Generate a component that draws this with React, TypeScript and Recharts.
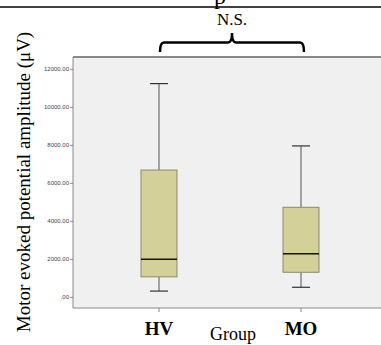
import React from 'react';
import {
  ComposedChart,
  Bar,
  XAxis,
  YAxis,
  CartesianGrid,
  ReferenceLine,
} from 'recharts';

const groups = ['HV', 'MO'];
const whiskerLow = [330, 530];
const q1 = [1080, 1320];
const median = [2000, 2300];
const q3 = [6700, 4740];
const whiskerHigh = [11250, 7970];
const yTicks = [0, 2000, 4000, 6000, 8000, 10000, 12000];
const yDomain = [-560, 12650];

const data = groups.map((g, i) => ({
  group: g,
  base: q1[i],
  box: q3[i] - q1[i],
  min: whiskerLow[i],
  q1: q1[i],
  med: median[i],
  q3: q3[i],
  max: whiskerHigh[i],
}));

const serif = '"Liberation Serif", "Times New Roman", serif';

// draws box, median and whiskers from the stacked bar's geometry
const BoxShape = (props: any) => {
  const { x, y, width, height, payload } = props;
  if (!payload || height <= 0) return null;
  const ppu = height / (payload.q3 - payload.q1);
  const cx = x + width / 2;
  const yMed = y + (payload.q3 - payload.med) * ppu;
  const yMax = y - (payload.max - payload.q3) * ppu;
  const yMin = y + height + (payload.q1 - payload.min) * ppu;
  return (
    <g>
      <line x1={cx} y1={y} x2={cx} y2={yMax} stroke="#555" strokeWidth={1} />
      <line x1={cx - 9} y1={yMax} x2={cx + 9} y2={yMax} stroke="#333" strokeWidth={1.2} />
      <line x1={cx} y1={y + height} x2={cx} y2={yMin} stroke="#555" strokeWidth={1} />
      <line x1={cx - 9} y1={yMin} x2={cx + 9} y2={yMin} stroke="#333" strokeWidth={1.2} />
      <rect x={x} y={y} width={width} height={height} fill="#d4d09a" stroke="#8b8966" strokeWidth={1} />
      <line x1={x} y1={yMed} x2={x + width} y2={yMed} stroke="#111" strokeWidth={1.5} />
    </g>
  );
};

const GroupTick = (props: any) => {
  const { x, y, payload } = props;
  return (
    <text x={x} y={y + 21} textAnchor="middle" fontFamily={serif} fontWeight="bold" fontSize={19} fill="#000">
      {payload.value}
    </text>
  );
};

export default function App() {
  return (
    <div style={{ position: 'absolute', left: 0, top: 0, width: 381, height: 345, overflow: 'hidden', background: '#fff' }}>
      <ComposedChart
        width={381}
        height={345}
        data={data}
        barSize={36}
        margin={{ top: 57, right: 0, bottom: 0, left: 0 }}
      >
        <CartesianGrid fill="#f0f0f0" horizontal={false} vertical={false} />
        <XAxis
          dataKey="group"
          type="category"
          padding={{ left: 15, right: 9 }}
          height={37}
          stroke="#888"
          tickSize={4}
          tickMargin={2}
          tick={<GroupTick />}
        />
        <YAxis
          type="number"
          domain={yDomain}
          ticks={yTicks}
          allowDataOverflow
          width={73}
          stroke="#888"
          tickSize={3}
          tickMargin={1}
          tick={{ fontSize: 6, fill: '#444', fontFamily: '"Liberation Sans", Arial, sans-serif' }}
          tickFormatter={(v: number) => (v === 0 ? '.00' : v.toFixed(2))}
        />
        <ReferenceLine y={yDomain[1]} stroke="#888" strokeWidth={2} />
        <Bar dataKey="base" stackId="a" fill="transparent" isAnimationActive={false} />
        <Bar dataKey="box" stackId="a" shape={<BoxShape />} isAnimationActive={false} />
      </ComposedChart>
      <svg
        width={381}
        height={345}
        style={{ position: 'absolute', left: 0, top: 0, pointerEvents: 'none' }}
      >
        <text x={220} y={4} textAnchor="middle" fontFamily={serif} fontSize={24} fill="#000">p</text>
        <line x1={0} y1={7} x2={381} y2={7} stroke="#000" strokeWidth={1.5} />
        <text x={232} y={25} textAnchor="middle" fontFamily={serif} fontSize={17} fill="#000">N.S.</text>
        <path
          d="M160 52 Q160 42.5 164 42.5 L228 42.5 Q232 42.5 232 33 Q232 42.5 236 42.5 L300 42.5 Q304 42.5 304 52"
          fill="none"
          stroke="#000"
          strokeWidth={2.5}
        />
        <text
          x={0}
          y={0}
          transform="translate(30 182) rotate(-90)"
          textAnchor="middle"
          fontFamily={serif}
          fontSize={19}
          fill="#000"
        >
          Motor evoked potential amplitude (μV)
        </text>
        <text x={233} y={340} textAnchor="middle" fontFamily={serif} fontSize={18} fill="#000">Group</text>
      </svg>
    </div>
  );
}
